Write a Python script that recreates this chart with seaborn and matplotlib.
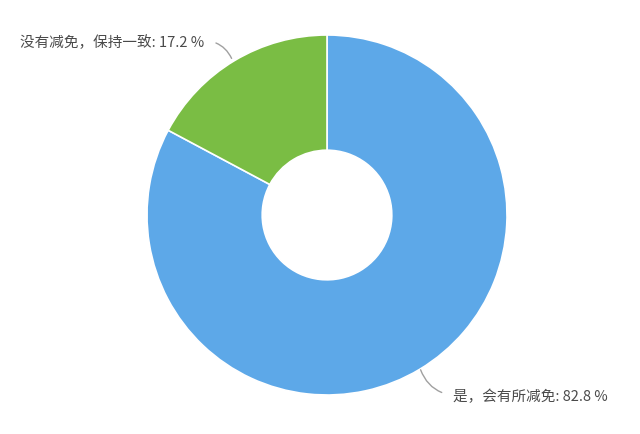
import matplotlib.pyplot as plt
import seaborn as sns

sns.set_style('white')
plt.rcParams['font.family'] = ['Noto Sans CJK SC', 'DejaVu Sans']

labels = ['是，会有所减免', '没有减免，保持一致']
values = [82.8, 17.2]
colors = ['#5DA8E8', '#7ABD44']

fig = plt.figure(figsize=(6.4, 4.34), dpi=100)
ax = fig.add_axes([127 / 640, 19 / 434, 400 / 640, 400 / 434])

ax.pie(values, colors=colors, startangle=90, counterclock=False, radius=1,
       wedgeprops=dict(width=0.64, edgecolor='white', linewidth=1.2))
ax.set_xlim(-200 / 180, 200 / 180)
ax.set_ylim(-200 / 180, 200 / 180)
ax.set_aspect('equal')
ax.axis('off')

# label 17.2 (upper left), label 82.8 (lower right)
ax.annotate(f'{labels[1]}: {values[1]} %', xy=(-0.53, 0.87), xytext=(-0.68, 0.96),
            ha='right', va='center', fontsize=10.5, color='#4a4a4a',
            arrowprops=dict(arrowstyle='-', color='#a0a0a0', lw=1, relpos=(1, 0.6),
                            connectionstyle='arc3,rad=-0.3', shrinkA=6, shrinkB=0))
ax.annotate(f'{labels[0]}: {values[0]} %', xy=(0.52, -0.86), xytext=(0.7, -1.01),
            ha='left', va='center', fontsize=10.5, color='#4a4a4a',
            arrowprops=dict(arrowstyle='-', color='#a0a0a0', lw=1, relpos=(0, 0.6),
                            connectionstyle='arc3,rad=-0.3', shrinkA=6, shrinkB=0))

fig.savefig('out.png', dpi=100)
